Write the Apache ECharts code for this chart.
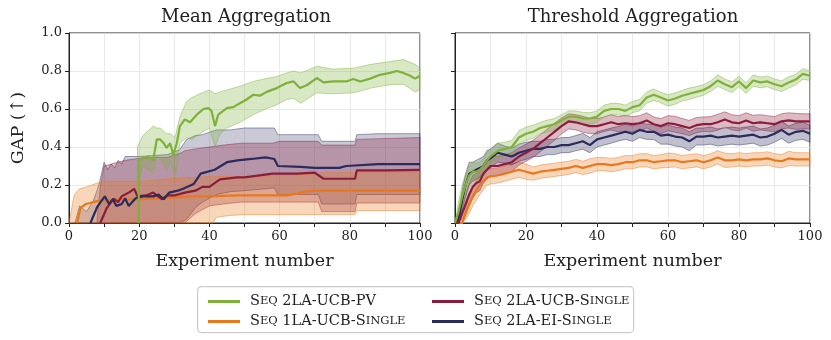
<!DOCTYPE html>
<html>
<head>
<meta charset="utf-8">
<script src="https://cdn.jsdelivr.net/npm/echarts@6/dist/echarts.min.js"></script>
<style>
  html, body { margin: 0; padding: 0; background: #fff; }
  #chart { width: 831px; height: 340px; }
</style>
</head>
<body>
<div id="chart"></div>
<script>
var FONT = 'DejaVu Serif';
var NAMES = ['Seq 2LA-UCB-PV', 'Seq 1LA-UCB-Single', 'Seq 2LA-UCB-Single', 'Seq 2LA-EI-Single'];
var COLORS = ['#7fb13a', '#e8781a', '#8c1c3b', '#2b2b5e'];
var BAND_RGB = ['127,177,58', '232,120,26', '140,28,59', '43,43,94'];

// ---- Mean Aggregation (left) ----
var lGreenX = [19.8, 20, 21, 22.6, 24, 25, 26, 27, 27.8, 28.8, 29.7, 30.7, 31.6, 33, 34.5, 36.4, 38.3, 39.7, 40.6, 41.6, 42.5, 45, 46.8, 48.7, 50.6, 52.5, 54.4, 56.3, 59.2, 62, 64, 65.8, 67.7, 70.6, 72.5, 75.3, 79, 81, 83, 85.8, 88.6, 91.5, 93.4, 95.3, 97.2, 98.6, 100];
var lGreenY = [0, 0.33, 0.34, 0.35, 0.33, 0.44, 0.44, 0.42, 0.395, 0.42, 0.36, 0.42, 0.51, 0.545, 0.53, 0.57, 0.60, 0.605, 0.59, 0.51, 0.57, 0.605, 0.61, 0.63, 0.65, 0.675, 0.67, 0.69, 0.71, 0.737, 0.745, 0.71, 0.725, 0.763, 0.74, 0.745, 0.745, 0.758, 0.745, 0.76, 0.78, 0.79, 0.80, 0.79, 0.775, 0.76, 0.775];
var lGreenBandX = [19.5, 21, 24, 25, 26, 27.8, 29, 30.2, 31.6, 33.5, 35, 37.3, 40, 41.6, 43, 45, 48.7, 52.5, 56, 59, 62, 64, 66, 70.6, 75, 81, 86, 91.5, 95.3, 98.6, 100];
var lGreenHi = [0.40, 0.46, 0.51, 0.50, 0.50, 0.47, 0.47, 0.45, 0.56, 0.64, 0.66, 0.68, 0.70, 0.68, 0.69, 0.70, 0.72, 0.745, 0.76, 0.77, 0.79, 0.80, 0.79, 0.825, 0.81, 0.815, 0.835, 0.85, 0.86, 0.835, 0.815];
var lGreenLo = [0.18, 0.30, 0.26, 0.35, 0.34, 0.28, 0.32, 0.24, 0.42, 0.45, 0.44, 0.47, 0.50, 0.40, 0.47, 0.50, 0.53, 0.57, 0.60, 0.62, 0.65, 0.655, 0.63, 0.685, 0.68, 0.685, 0.71, 0.728, 0.73, 0.69, 0.70];

var lOrangeX = [2.3, 3.3, 4.8, 6, 8, 10, 15, 20, 25, 30, 35, 40, 48, 55, 62, 65, 67, 70, 80, 90, 100];
var lOrangeY = [0, 0.08, 0.10, 0.105, 0.115, 0.12, 0.125, 0.125, 0.13, 0.135, 0.14, 0.14, 0.145, 0.145, 0.145, 0.155, 0.165, 0.17, 0.17, 0.17, 0.17];
var lOrangeBandX = [0, 1.5, 3, 5, 8, 10, 20, 30, 41, 42, 46, 50, 60, 71, 72, 81.5, 82, 100];
var lOrangeHi = [0, 0.15, 0.18, 0.19, 0.21, 0.22, 0.22, 0.235, 0.245, 0.245, 0.245, 0.245, 0.25, 0.26, 0.265, 0.265, 0.27, 0.27];
var lOrangeLo = [0, 0, 0, 0, 0, 0, 0, 0, 0, 0.03, 0.04, 0.044, 0.044, 0.044, 0.045, 0.045, 0.065, 0.065];

var lMaroonX = [8.9, 10.8, 12.7, 14, 15, 16, 17, 18.6, 19.5, 22, 24, 26.4, 28, 30, 33, 36, 38, 40, 43, 48, 50, 58, 65, 70, 72.5, 81.5, 82, 90, 100];
var lMaroonY = [0, 0.08, 0.128, 0.11, 0.14, 0.15, 0.16, 0.18, 0.14, 0.145, 0.16, 0.125, 0.145, 0.145, 0.16, 0.17, 0.19, 0.19, 0.23, 0.24, 0.24, 0.26, 0.26, 0.265, 0.233, 0.233, 0.277, 0.277, 0.28];
var lMaroonBandX = [8, 9, 10, 16, 20, 24, 28, 32, 33, 36, 40, 44, 49, 58, 60, 71, 72, 81.5, 82, 100];
var lMaroonHi = [0.02, 0.2, 0.3, 0.33, 0.34, 0.345, 0.345, 0.37, 0.38, 0.39, 0.40, 0.41, 0.42, 0.42, 0.43, 0.43, 0.41, 0.41, 0.44, 0.45];
var lMaroonLo = [0, 0, 0, 0, 0, 0, 0, 0, 0, 0.05, 0.09, 0.10, 0.11, 0.11, 0.11, 0.11, 0.06, 0.06, 0.105, 0.105];

var lNavyX = [6.1, 8, 9, 10.2, 11.4, 12.5, 13.5, 15, 16, 17, 19, 21, 24, 25.5, 27, 28.5, 31, 32.5, 35.5, 37.5, 41.5, 45, 48, 52, 56, 58.5, 59.5, 66, 70, 77, 79, 88, 100];
var lNavyY = [0, 0.083, 0.11, 0.14, 0.10, 0.125, 0.09, 0.10, 0.13, 0.09, 0.13, 0.14, 0.14, 0.15, 0.125, 0.16, 0.17, 0.18, 0.205, 0.26, 0.28, 0.32, 0.33, 0.337, 0.345, 0.337, 0.30, 0.295, 0.29, 0.29, 0.30, 0.31, 0.31];
var lNavyBandX = [1.7, 3, 5, 7, 8.5, 10, 11, 12, 13, 14, 15, 16, 20, 24, 28, 31.5, 33.5, 36, 38, 42, 46, 50, 58.5, 59.5, 71, 72, 81.5, 82, 88, 100];
var lNavyHi = [0, 0.09, 0.06, 0.12, 0.2, 0.32, 0.28, 0.31, 0.29, 0.33, 0.31, 0.35, 0.35, 0.355, 0.36, 0.385, 0.44, 0.46, 0.465, 0.49, 0.49, 0.50, 0.50, 0.465, 0.465, 0.43, 0.43, 0.465, 0.47, 0.47];
var lNavyLo = [0, 0, 0, 0, 0, 0, 0, 0, 0, 0, 0, 0, 0, 0, 0, 0, 0.02, 0.08, 0.11, 0.15, 0.165, 0.17, 0.185, 0.15, 0.15, 0.10, 0.10, 0.15, 0.15, 0.15];

// ---- Threshold Aggregation (right) ----
var rX = [0, 1, 2, 3, 4, 5, 6, 7, 8, 9, 10, 12, 14, 16, 18, 20, 22, 24, 26, 28, 30, 32, 34, 36, 38, 40, 42, 44, 46, 48, 50, 52, 54, 56, 58, 60, 62, 64, 66, 68, 70, 72, 74, 76, 78, 80, 82, 84, 86, 88, 90, 92, 94, 96, 98, 100];
var rGreenY = [0, 0.06, 0.14, 0.2, 0.25, 0.27, 0.27, 0.28, 0.30, 0.33, 0.35,
  0.38, 0.39, 0.40, 0.45, 0.47, 0.48, 0.50, 0.51, 0.52, 0.54,
  0.56, 0.56, 0.55, 0.55, 0.56, 0.59, 0.60, 0.60, 0.59, 0.61,
  0.62, 0.66, 0.675, 0.66, 0.645, 0.655, 0.67, 0.68, 0.69, 0.70,
  0.72, 0.75, 0.73, 0.715, 0.745, 0.71, 0.75, 0.74, 0.745, 0.73,
  0.72, 0.74, 0.755, 0.785, 0.775];
var rGreenSd = [0, 0.05, 0.06, 0.06, 0.05, 0.05, 0.045, 0.04, 0.04, 0.04, 0.04,
  0.04, 0.035, 0.035, 0.035, 0.035, 0.035, 0.03, 0.032, 0.03, 0.03,
  0.03, 0.03, 0.032, 0.03, 0.03, 0.03, 0.03, 0.03, 0.03, 0.03,
  0.03, 0.03, 0.03, 0.028, 0.03, 0.03, 0.028, 0.03, 0.028, 0.028,
  0.028, 0.03, 0.028, 0.028, 0.028, 0.028, 0.03, 0.028, 0.028, 0.028,
  0.028, 0.03, 0.028, 0.028, 0.025];
var rMaroonY = [0, 0, 0.05, 0.10, 0.15, 0.19, 0.21, 0.22, 0.26, 0.28, 0.30,
  0.30, 0.31, 0.32, 0.35, 0.37, 0.39, 0.42, 0.45, 0.48, 0.51,
  0.535, 0.53, 0.52, 0.51, 0.51, 0.52, 0.53, 0.52, 0.525, 0.52,
  0.525, 0.54, 0.52, 0.51, 0.525, 0.52, 0.51, 0.50, 0.515, 0.52,
  0.52, 0.53, 0.545, 0.53, 0.525, 0.54, 0.525, 0.53, 0.525, 0.52,
  0.535, 0.54, 0.535, 0.535, 0.535];
var rMaroonSd = [0, 0, 0.03, 0.05, 0.06, 0.06, 0.05, 0.05, 0.05, 0.05, 0.05,
  0.05, 0.05, 0.05, 0.045, 0.045, 0.045, 0.045, 0.045, 0.045, 0.042,
  0.04, 0.04, 0.042, 0.04, 0.04, 0.038, 0.04, 0.04, 0.042, 0.04,
  0.04, 0.04, 0.038, 0.04, 0.04, 0.042, 0.04, 0.04, 0.04, 0.038,
  0.04, 0.042, 0.04, 0.04, 0.04, 0.04, 0.042, 0.04, 0.04, 0.04,
  0.04, 0.04, 0.042, 0.04, 0.04];
var rNavyY = [0, 0.02, 0.12, 0.2, 0.26, 0.27, 0.28, 0.29, 0.30, 0.33, 0.34,
  0.37, 0.36, 0.35, 0.37, 0.38, 0.39, 0.39, 0.40, 0.40, 0.41,
  0.41, 0.42, 0.43, 0.41, 0.44, 0.45, 0.46, 0.47, 0.48, 0.47,
  0.49, 0.48, 0.48, 0.46, 0.465, 0.455, 0.45, 0.43, 0.455, 0.455,
  0.46, 0.45, 0.455, 0.46, 0.455, 0.46, 0.465, 0.45, 0.455, 0.47,
  0.49, 0.465, 0.48, 0.485, 0.47];
var rNavySd = [0, 0.02, 0.05, 0.06, 0.06, 0.05, 0.05, 0.05, 0.05, 0.05, 0.05,
  0.05, 0.045, 0.045, 0.045, 0.045, 0.04, 0.04, 0.04, 0.04, 0.04,
  0.04, 0.04, 0.042, 0.04, 0.04, 0.04, 0.04, 0.038, 0.04, 0.04,
  0.04, 0.04, 0.04, 0.045, 0.05, 0.05, 0.05, 0.05, 0.045, 0.045,
  0.045, 0.045, 0.045, 0.045, 0.045, 0.045, 0.045, 0.045, 0.045, 0.045,
  0.045, 0.045, 0.045, 0.045, 0.045];
var rOrangeY = [0, 0, 0, 0.05, 0.10, 0.14, 0.17, 0.20, 0.22, 0.24, 0.245,
  0.25, 0.26, 0.27, 0.28, 0.27, 0.26, 0.27, 0.275, 0.28, 0.285,
  0.29, 0.30, 0.29, 0.30, 0.31, 0.31, 0.305, 0.31, 0.32, 0.32,
  0.33, 0.33, 0.32, 0.325, 0.33, 0.33, 0.32, 0.325, 0.33, 0.32,
  0.33, 0.345, 0.33, 0.33, 0.335, 0.33, 0.335, 0.335, 0.34, 0.33,
  0.325, 0.34, 0.335, 0.335, 0.335];
var rOrangeSd = [0, 0, 0, 0.03, 0.05, 0.05, 0.05, 0.05, 0.045, 0.04, 0.04,
  0.04, 0.04, 0.04, 0.04, 0.04, 0.035, 0.035, 0.035, 0.035, 0.035,
  0.035, 0.035, 0.035, 0.038, 0.035, 0.035, 0.035, 0.035, 0.035, 0.035,
  0.035, 0.035, 0.035, 0.035, 0.038, 0.035, 0.035, 0.035, 0.035, 0.035,
  0.035, 0.035, 0.038, 0.035, 0.035, 0.035, 0.035, 0.035, 0.035, 0.035,
  0.035, 0.038, 0.035, 0.035, 0.035];

var LEGEND_TEXT = {
  'Seq 2LA-UCB-PV': '{c|S}{s|EQ}{c| 2LA-UCB-PV}',
  'Seq 1LA-UCB-Single': '{c|S}{s|EQ}{c| 1LA-UCB-S}{s|INGLE}',
  'Seq 2LA-UCB-Single': '{c|S}{s|EQ}{c| 2LA-UCB-S}{s|INGLE}',
  'Seq 2LA-EI-Single': '{c|S}{s|EQ}{c| 2LA-EI-S}{s|INGLE}'
};

function lineSeries(idx, xs, ys, gi) {
  return {
    name: NAMES[idx], type: 'line', xAxisIndex: gi, yAxisIndex: gi,
    data: xs.map(function(x, i) { return [x, ys[i]]; }),
    showSymbol: false, symbol: 'none', z: 4,
    lineStyle: { color: COLORS[idx], width: 2.2 },
    itemStyle: { color: COLORS[idx] }
  };
}

function bandSeries(idx, xs, lo, hi, gi, alpha) {
  return {
    type: 'custom', xAxisIndex: gi, yAxisIndex: gi, silent: true, z: 2,
    data: [[0, 0]],
    renderItem: function(params, api) {
      var pts = [];
      for (var i = 0; i < xs.length; i++) pts.push(api.coord([xs[i], hi[i]]));
      for (var j = xs.length - 1; j >= 0; j--) pts.push(api.coord([xs[j], lo[j]]));
      return {
        type: 'polygon', shape: { points: pts },
        style: { fill: 'rgba(' + BAND_RGB[idx] + ',' + alpha + ')', stroke: 'rgba(' + BAND_RGB[idx] + ',0.45)', lineWidth: 1 }
      };
    }
  };
}

function sdBand(idx, ys, sd, gi) {
  var lo = ys.map(function(v, i) { return Math.max(0, v - sd[i]); });
  var hi = ys.map(function(v, i) { return v + sd[i]; });
  return bandSeries(idx, rX, lo, hi, gi, 0.3);
}

var axisText = { fontFamily: FONT, fontSize: 13, color: '#222' };

function xAxis(gi) {
  return {
    type: 'value', gridIndex: gi, min: 0, max: 100, interval: 10,
    name: 'Experiment number', nameLocation: 'middle', nameGap: 29,
    nameTextStyle: { fontFamily: FONT, fontSize: 17.5, color: '#222' },
    axisLine: { show: true, lineStyle: { color: '#222', width: 1 } },
    axisTick: { show: true, length: 4, lineStyle: { color: '#222' } },
    axisLabel: Object.assign({ margin: 7, formatter: function(v) { return v % 20 === 0 ? String(v) : ''; } }, axisText),
    splitLine: { show: true, lineStyle: { color: '#e4e4e4', width: 0.8 } }
  };
}

function yAxis(gi) {
  return {
    type: 'value', gridIndex: gi, min: 0, max: 1, interval: 0.2,
    name: gi === 0 ? 'GAP (\u2191)' : '', nameLocation: 'middle', nameGap: 42,
    nameTextStyle: { fontFamily: FONT, fontSize: 17.5, color: '#222' },
    axisLine: { show: true, lineStyle: { color: '#222', width: 1 } },
    axisTick: { show: true, length: 4, lineStyle: { color: '#222' } },
    axisLabel: Object.assign({ show: gi === 0, margin: 7, formatter: function(v) { return v.toFixed(1); } }, axisText),
    splitLine: { show: true, lineStyle: { color: '#e4e4e4', width: 0.8 } }
  };
}

var series = [
  bandSeries(3, lNavyBandX, lNavyLo, lNavyHi, 0, 0.25),
  bandSeries(2, lMaroonBandX, lMaroonLo, lMaroonHi, 0, 0.3),
  bandSeries(1, lOrangeBandX, lOrangeLo, lOrangeHi, 0, 0.3),
  bandSeries(0, lGreenBandX, lGreenLo, lGreenHi, 0, 0.3),
  lineSeries(1, lOrangeX, lOrangeY, 0),
  lineSeries(2, lMaroonX, lMaroonY, 0),
  lineSeries(3, lNavyX, lNavyY, 0),
  lineSeries(0, lGreenX, lGreenY, 0),
  sdBand(1, rOrangeY, rOrangeSd, 1),
  sdBand(3, rNavyY, rNavySd, 1),
  sdBand(2, rMaroonY, rMaroonSd, 1),
  sdBand(0, rGreenY, rGreenSd, 1),
  lineSeries(1, rX, rOrangeY, 1),
  lineSeries(3, rX, rNavyY, 1),
  lineSeries(2, rX, rMaroonY, 1),
  lineSeries(0, rX, rGreenY, 1)
];

var legendBase = {
  orient: 'vertical', top: 289, itemWidth: 32, itemHeight: 3, itemGap: 5,
  icon: 'rect',
  formatter: function(name) { return LEGEND_TEXT[name]; },
  textStyle: {
    fontFamily: FONT, fontSize: 14.5, color: '#222', padding: [0, 0, 0, 5],
    rich: {
      c: { fontFamily: FONT, fontSize: 14.5, lineHeight: 17, color: '#222' },
      s: { fontFamily: FONT, fontSize: 11.5, lineHeight: 17, color: '#222' }
    }
  }
};

var chart = echarts.init(document.getElementById('chart'));
chart.setOption({
  animation: false,
  backgroundColor: '#fff',
  title: [
    { text: 'Mean Aggregation', left: 241, top: 3, textAlign: 'center', textStyle: { fontFamily: FONT, fontSize: 18, fontWeight: 'normal', color: '#222' } },
    { text: 'Threshold Aggregation', left: 628, top: 3, textAlign: 'center', textStyle: { fontFamily: FONT, fontSize: 18, fontWeight: 'normal', color: '#222' } }
  ],
  grid: [
    { left: 69, top: 33, width: 351, height: 190, show: true, borderColor: '#222', borderWidth: 1 },
    { left: 455, top: 33, width: 355, height: 190, show: true, borderColor: '#222', borderWidth: 1 }
  ],
  xAxis: [xAxis(0), xAxis(1)],
  yAxis: [yAxis(0), yAxis(1)],
  legend: [
    Object.assign({ left: 203, data: [NAMES[0], NAMES[1]] }, legendBase),
    Object.assign({ left: 427, data: [NAMES[2], NAMES[3]] }, legendBase)
  ],
  graphic: [{
    type: 'rect', left: 197, top: 286, z: -1,
    shape: { width: 436, height: 46, r: 4 },
    style: { fill: '#fff', stroke: '#cccccc', lineWidth: 1.2 }
  }],
  series: series
});
</script>
</body>
</html>
